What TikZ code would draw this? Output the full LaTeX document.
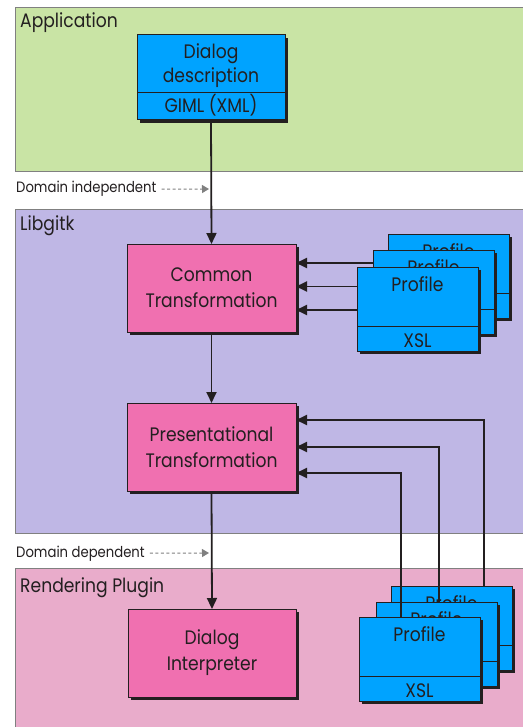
\documentclass[tikz,border=0pt]{standalone}
\usepackage{fontspec}
\setmainfont{Poppins}[FakeStretch=0.88]
\usetikzlibrary{arrows.meta,shadows,calc}
\definecolor{appg}{RGB}{201,228,165}
\definecolor{libp}{RGB}{191,183,229}
\definecolor{rendp}{RGB}{233,172,203}
\definecolor{blu}{RGB}{0,163,255}
\definecolor{mag}{RGB}{240,112,176}
\definecolor{txt}{RGB}{35,31,32}
\definecolor{dgray}{RGB}{128,128,128}
\newcommand\profbox[3]{%
  \node[bluebox, minimum width=121pt, minimum height=84pt] (#1) at (#2,#3) {};
  \draw[divl] ($(#1.north west)+(0,59)$) -- ($(#1.north east)+(0,59)$);
  \node[boxtxt, anchor=base] at ($(#1.north)+(0,24)$) {Profile};
  \node[boxtxt, anchor=base] at ($(#1.north)+(0,80)$) {XSL};
}
\begin{document}
\begin{tikzpicture}[x=1pt,y=-1pt,
  panel/.style={draw=dgray, line width=0.8pt, anchor=north west, inner sep=0, outer sep=0},
  box/.style={draw=txt, line width=1pt, anchor=north west, inner sep=0, outer sep=0,
    drop shadow={shadow xshift=3pt, shadow yshift=-3pt, fill=txt, opacity=1}},
  bluebox/.style={box, fill=blu},
  magbox/.style={box, fill=mag, align=center, font=\fontsize{19.5}{26}\selectfont, text=txt},
  boxtxt/.style={font=\fontsize{19.5}{24}\selectfont, text=txt, inner sep=0, align=center},
  divl/.style={draw=txt, line width=1pt},
  lbl/.style={font=\fontsize{19.5}{24}\selectfont, text=txt, anchor=base west, inner sep=0},
  domlbl/.style={font=\fontsize{15}{17}\selectfont, text=txt, anchor=base west, inner sep=0},
  conn/.style={draw=txt, line width=1.8pt, -{Triangle[length=11pt,width=10pt]}},
  domarr/.style={draw=dgray, line width=1pt, dash pattern=on 3pt off 2.5pt, -{Triangle[length=7pt,width=8pt]}}
]
\useasboundingbox[fill=white] (0,0) rectangle (522,727);
% panels
\node[panel, fill=appg, minimum width=510pt, minimum height=164pt] (app) at (15,7) {};
\node[panel, fill=libp, minimum width=510pt, minimum height=324pt] (lib) at (15,209) {};
\node[panel, fill=rendp, minimum width=510pt, minimum height=170pt] (rend) at (15,568) {};
\node[lbl] (applbl) at (20,28) {Application};
\node[lbl] (liblbl) at (20,230) {Libgitk};
\node[lbl] (rendlbl) at (20,592) {Rendering Plugin};
% domain labels
\node[domlbl] (di) at (16,193) {Domain independent};
\coordinate (diend) at (209,189);
\draw[domarr] ($(di.east)+(5,0)$) -- (diend);
\node[domlbl] (dd2) at (16,557) {Domain dependent};
\coordinate (ddend) at (209,553);
\draw[domarr] ($(dd2.east)+(5,0)$) -- (ddend);
% dialog description
\node[bluebox, minimum width=148pt, minimum height=85pt] (desc) at (137,35) {};
\draw[divl] ($(desc.north west)+(0,58)$) -- ($(desc.north east)+(0,58)$);
\node[boxtxt, anchor=base] (desct) at ($(desc.north)+(0,24)$) {Dialog};
\node[boxtxt, anchor=base] (desct2) at ($(desc.north)+(0,48)$) {description};
\node[boxtxt, anchor=base] (giml) at ($(desc.north)+(0,78)$) {GIML (XML)};
% magenta boxes
\node[magbox, minimum width=169pt, minimum height=88pt] (ct) at (127,244) {Common\\Transformation};
\node[magbox, minimum width=169pt, minimum height=88pt] (pt) at (127,403) {Presentational\\Transformation};
\node[magbox, minimum width=168pt, minimum height=88pt] (di2) at (128,609) {Dialog\\Interpreter};
% profile stacks
\profbox{pa3}{388}{234}
\profbox{pa2}{373}{250}
\profbox{pa1}{357}{267}
\profbox{pb3}{391}{586}
\profbox{pb2}{376}{602}
\profbox{pb1}{359}{617}
% connectors
\draw[conn] (desc.south) -- (ct.north);
\draw[conn] (ct.south) -- (pt.north);
\draw[conn] (pt.south) -- (di2.north);
\draw[conn] ($(pa2.north west)+(0,13)$) -- (ct.east |- {$(pa2.north west)+(0,13)$});
\draw[conn] ($(pa1.north west)+(0,19.5)$) -- (ct.east |- {$(pa1.north west)+(0,19.5)$});
\draw[conn] ($(pa1.north west)+(0,43)$) -- (ct.east |- {$(pa1.north west)+(0,43)$});
\draw[conn] ($(pb1.north west)+(42,0)$) |- ($(pt.north east)+(0,70)$);
\draw[conn] ($(pb2.north west)+(63,0)$) |- ($(pt.north east)+(0,44)$);
\draw[conn] ($(pb3.north west)+(93,0)$) |- ($(pt.north east)+(0,17)$);
\end{tikzpicture}
\end{document}
